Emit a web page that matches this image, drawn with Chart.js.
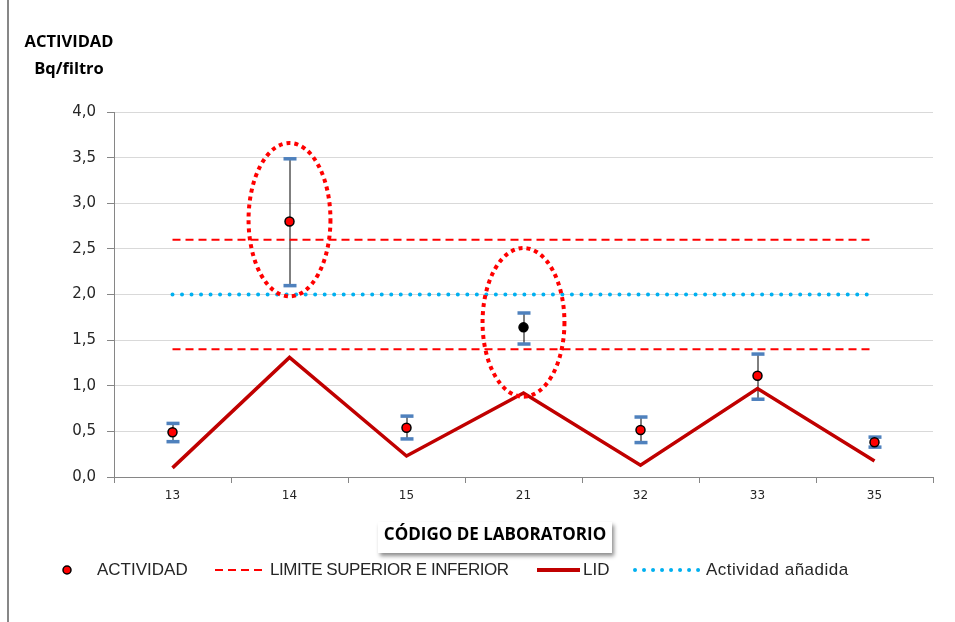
<!DOCTYPE html>
<html>
<head>
<meta charset="utf-8">
<script src="https://cdn.jsdelivr.net/npm/chart.js@4.4.1/dist/chart.umd.min.js"></script>
<style>
  html, body { margin: 0; padding: 0; background: #fff; }
  #wrap { position: relative; width: 955px; height: 622px; overflow: hidden; }
  #chart { position: absolute; left: 0; top: 0; }
  .lbl { position: absolute; white-space: nowrap; color: #000; }
  #ytitle { left: 13px; top: 27px; width: 112px; text-align: center; font: bold 16.5px "Open Sans", sans-serif; line-height: 27px; }
  #xtitle { left: 378px; top: 522px; width: 234px; height: 31px; line-height: 31px; text-align: center;
            font: bold 17px "Open Sans", sans-serif; background: #fff; box-shadow: 2px 3px 4px rgba(0,0,0,0.45); }
  .leg { position: absolute; top: 559px; font: 17px "Liberation Sans", Arial, sans-serif; color: #262626; line-height: 22px; }
</style>
</head>
<body>
<div id="wrap">
  <canvas id="chart" width="955" height="622"></canvas>
  <div id="ytitle" class="lbl">ACTIVIDAD<br>Bq/filtro</div>
  <div id="xtitle" class="lbl">CÓDIGO DE LABORATORIO</div>
  <div class="leg" style="left:97px">ACTIVIDAD</div>
  <div class="leg" style="left:270px; letter-spacing:-0.45px">LIMITE SUPERIOR E INFERIOR</div>
  <div class="leg" style="left:583px">LID</div>
  <div class="leg" style="left:706px; letter-spacing:0.5px">Actividad añadida</div>
</div>
<script>
// datos
const laboratorios = ['13', '14', '15', '21', '32', '33', '35'];
const actividad = [0.49, 2.80, 0.54, 1.64, 0.515, 1.11, 0.38];
const errorSuperior = [0.59, 3.49, 0.67, 1.80, 0.66, 1.35, 0.44];
const errorInferior = [0.39, 2.10, 0.42, 1.46, 0.38, 0.855, 0.33];
const lid = [0.10, 1.31, 0.23, 0.92, 0.13, 0.97, 0.175];
const limiteSuperior = [2.6, 2.6, 2.6, 2.6, 2.6, 2.6, 2.6];
const limiteInferior = [1.4, 1.4, 1.4, 1.4, 1.4, 1.4, 1.4];
const actividadAnadida = [2.0, 2.0, 2.0, 2.0, 2.0, 2.0, 2.0];
const yTicks = [0, 0.5, 1, 1.5, 2, 2.5, 3, 3.5, 4];
// laboratorios marcados con elipse
const marcados = ['14', '21'];
const elipseSup = [3.66, 2.51];
const elipseInf = [1.98, 0.88];

const puntoColor = laboratorios.map(l => l === '21' ? '#000000' : '#ff0000');

const extras = {
    id: 'extras',
    beforeDatasetsDraw(chart) {
        // barras de error
        const ctx = chart.ctx, x = chart.scales.x, y = chart.scales.y;
        ctx.save();
        laboratorios.forEach((l, i) => {
            const px = x.getPixelForValue(i);
            const top = y.getPixelForValue(errorSuperior[i]);
            const bot = y.getPixelForValue(errorInferior[i]);
            ctx.strokeStyle = '#000';
            ctx.lineWidth = 1;
            ctx.beginPath();
            ctx.moveTo(px + 0.5, top);
            ctx.lineTo(px + 0.5, bot);
            ctx.stroke();
            ctx.fillStyle = '#4f81bd';
            ctx.fillRect(px - 6, top - 1.5, 13, 3.5);
            ctx.fillRect(px - 6, bot - 1.5, 13, 3.5);
        });
        ctx.restore();
    },
    afterDatasetsDraw(chart) {
        // elipses punteadas
        const ctx = chart.ctx, x = chart.scales.x, y = chart.scales.y;
        const ancho = (x.getPixelForValue(1) - x.getPixelForValue(0)) * 0.35;
        ctx.save();
        ctx.strokeStyle = '#ff0000';
        ctx.lineWidth = 4;
        ctx.setLineDash([4, 4]);
        marcados.forEach((l, i) => {
            const px = x.getPixelForValue(laboratorios.indexOf(l));
            const t = y.getPixelForValue(elipseSup[i]);
            const b = y.getPixelForValue(elipseInf[i]);
            ctx.beginPath();
            ctx.ellipse(px, (t + b) / 2, ancho, (b - t) / 2, 0, 0, Math.PI * 2);
            ctx.stroke();
        });
        ctx.restore();
    },
    afterDraw(chart) {
        const ctx = chart.ctx;
        ctx.save();
        // borde izquierdo del grafico
        ctx.fillStyle = '#878787';
        ctx.fillRect(7, 0, 2, 622);
        // simbolos de la leyenda
        const ly = 570;
        ctx.beginPath();
        ctx.arc(67, ly, 4, 0, Math.PI * 2);
        ctx.fillStyle = '#ff0000';
        ctx.fill();
        ctx.lineWidth = 1.5;
        ctx.strokeStyle = '#000';
        ctx.stroke();

        ctx.strokeStyle = '#ff0000';
        ctx.lineWidth = 2;
        ctx.setLineDash([8, 5]);
        ctx.beginPath(); ctx.moveTo(215, ly); ctx.lineTo(263, ly); ctx.stroke();

        ctx.setLineDash([]);
        ctx.strokeStyle = '#c00000';
        ctx.lineWidth = 4;
        ctx.beginPath(); ctx.moveTo(537, ly); ctx.lineTo(580, ly); ctx.stroke();

        ctx.strokeStyle = '#00b0f0';
        ctx.lineCap = 'round';
        ctx.setLineDash([0.01, 9]);
        ctx.beginPath(); ctx.moveTo(635, ly); ctx.lineTo(700, ly); ctx.stroke();
        ctx.restore();
    }
};

const ctx = document.getElementById('chart').getContext('2d');
const chart = new Chart(ctx, {
    type: 'line',
    data: {
        labels: laboratorios,
        datasets: [
            {
                label: 'ACTIVIDAD',
                data: actividad,
                showLine: false,
                pointRadius: 4.5,
                pointBackgroundColor: puntoColor,
                pointBorderColor: '#000',
                pointBorderWidth: 1.5,
                order: 0
            },
            {
                label: 'LIMITE SUPERIOR E INFERIOR',
                data: limiteSuperior,
                borderColor: '#ff0000',
                borderWidth: 2,
                borderDash: [8, 5],
                pointRadius: 0,
                order: 3
            },
            {
                label: 'LIMITE INFERIOR',
                data: limiteInferior,
                borderColor: '#ff0000',
                borderWidth: 2,
                borderDash: [8, 5],
                pointRadius: 0,
                order: 3
            },
            {
                label: 'LID',
                data: lid,
                borderColor: '#c00000',
                borderWidth: 3.5,
                pointRadius: 0,
                order: 1
            },
            {
                label: 'Actividad añadida',
                data: actividadAnadida,
                borderColor: '#00b0f0',
                borderWidth: 4,
                borderDash: [0.01, 9.5],
                borderCapStyle: 'round',
                pointRadius: 0,
                order: 2
            }
        ]
    },
    options: {
        responsive: false,
        animation: false,
        layout: {
            padding: { left: 0, top: 112, right: 22, bottom: 105 }
        },
        plugins: {
            legend: { display: false },
            tooltip: { enabled: false }
        },
        scales: {
            x: {
                offset: true,
                afterFit: s => { s.height = 40; },
                grid: {
                    offset: true,
                    drawOnChartArea: false,
                    tickLength: 6,
                    tickColor: '#868686'
                },
                border: { color: '#868686' },
                ticks: {
                    padding: 6,
                    color: '#262626',
                    font: { family: 'DejaVu Sans', size: 12 }
                }
            },
            y: {
                min: 0,
                max: 4,
                afterFit: s => { s.width = 114; },
                afterBuildTicks: s => { s.ticks = yTicks.map(v => ({ value: v })); },
                grid: {
                    color: '#d9d9d9',
                    tickColor: '#868686',
                    tickLength: 7
                },
                border: { color: '#868686' },
                ticks: {
                    padding: 11,
                    color: '#262626',
                    font: { family: 'DejaVu Sans', size: 15 },
                    callback: v => v.toFixed(1).replace('.', ',')
                }
            }
        }
    },
    plugins: [extras]
});
</script>
</body>
</html>
